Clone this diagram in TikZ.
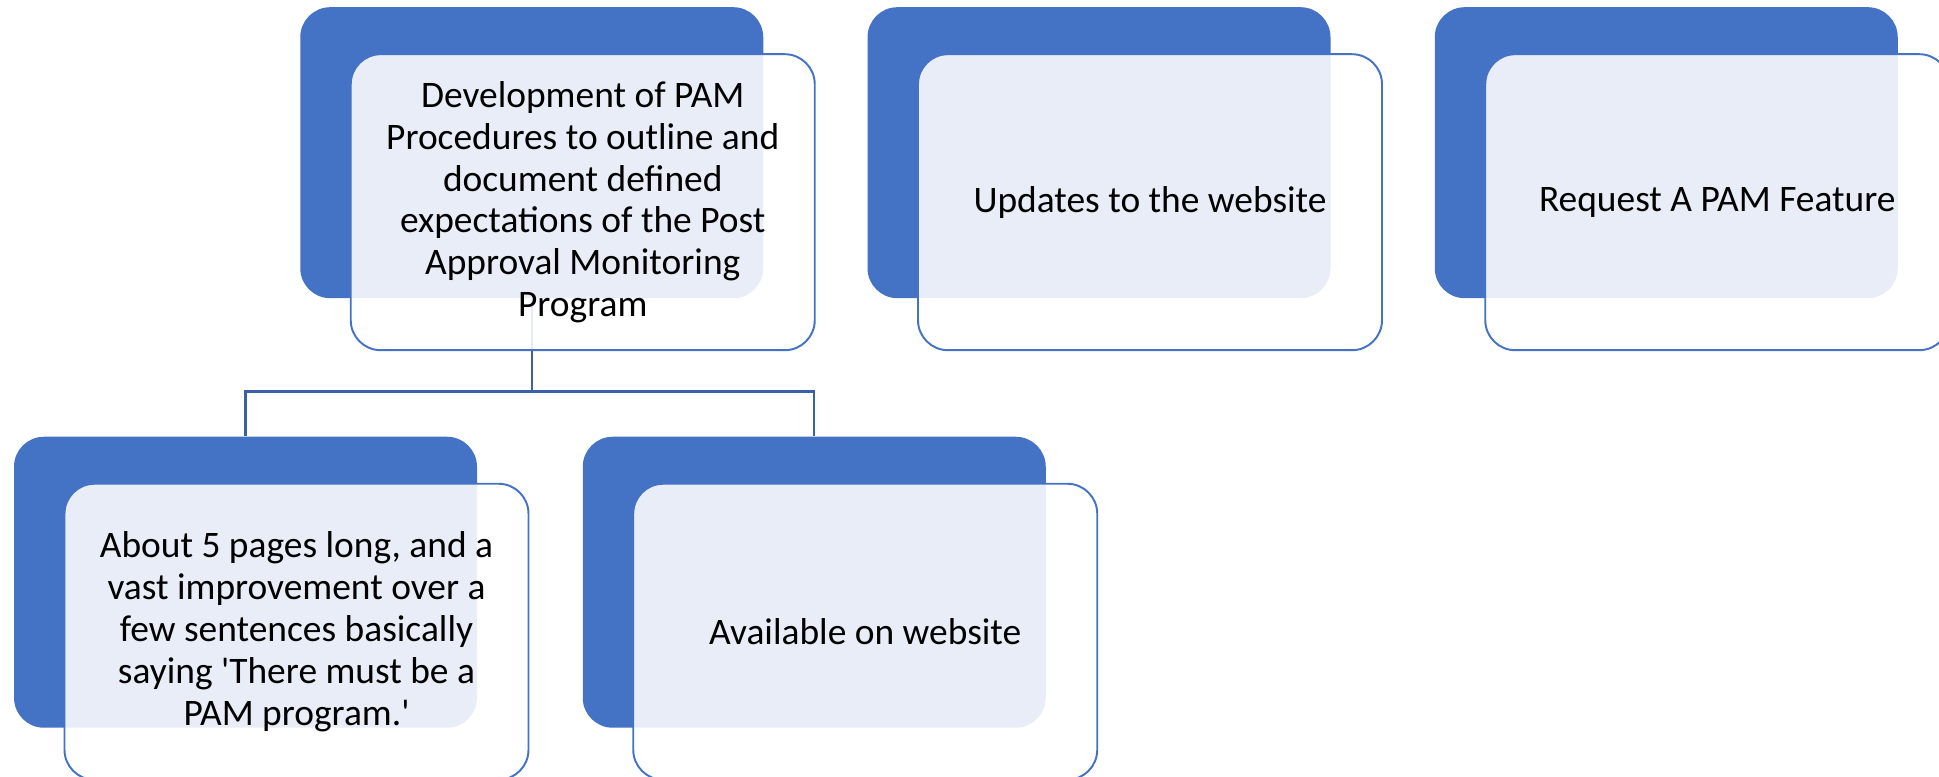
\documentclass[tikz,border=0pt]{standalone}
\usepackage{fontspec}
\setmainfont{Carlito}
\usetikzlibrary{positioning}

\definecolor{pamblue}{RGB}{68,114,196}

\tikzset{
  backbox/.style={fill=pamblue, rounded corners=0.6cm, inner sep=0pt,
    minimum width=9.26cm, minimum height=5.82cm},
  card/.style={draw=pamblue, line width=1.1pt, fill=white, fill opacity=0.88,
    text opacity=1, rounded corners=0.6cm, inner sep=0pt,
    minimum width=9.28cm, minimum height=5.92cm, align=center,
    font=\fontsize{21.3}{23.8}\selectfont},
  link/.style={draw=pamblue!85!black, line width=1.3pt},
}

\begin{document}
\begin{tikzpicture}
  \useasboundingbox (0,0) rectangle (38.78,-15.54);

  % blue backs
  \node[backbox] (b1) at (10.635,-3.054) {};
  \node[backbox] (b2) at (21.98,-3.054) {};
  \node[backbox] (b3) at (33.325,-3.054) {};
  \node[backbox] (b4) at (4.91,-11.645) {};
  \node[backbox] (b5) at (16.285,-11.645) {};

  % tree lines
  \draw[link] (b1.south) -- ++(0,-1.86) -| (b4.north);
  \draw[link] (b1.south) -- ++(0,-1.86) -| (b5.north);

  % cards on top
  \node[card] (c1) at ([shift={(1.02,-0.99)}]b1.center)
    {Development of PAM\\ Procedures to outline and\\ document defined\\
     expectations of the Post\\ Approval Monitoring\\ Program};
  \node[card] (c2) at ([shift={(1.02,-0.99)}]b2.center) {Updates to the website};
  \node[card] (c3) at ([shift={(1.02,-0.99)}]b3.center) {Request A PAM Feature};
  \node[card] (c4) at ([shift={(1.02,-0.99)}]b4.center)
    {About 5 pages long, and a\\ vast improvement over a\\ few sentences basically\\
     saying \textquotesingle There must be a\\ PAM program.\textquotesingle};
  \node[card] (c5) at ([shift={(1.02,-0.99)}]b5.center) {Available on website};
\end{tikzpicture}
\end{document}
